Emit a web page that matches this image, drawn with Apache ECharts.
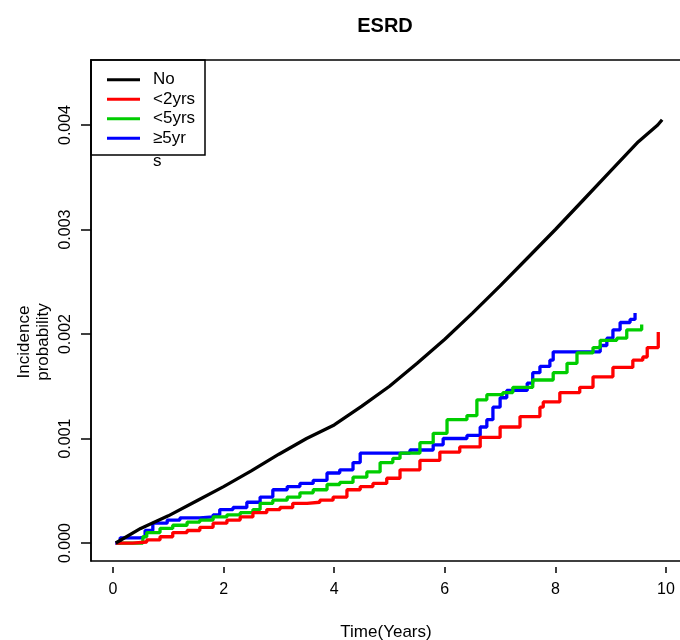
<!DOCTYPE html>
<html>
<head>
<meta charset="utf-8">
<script src="https://cdn.jsdelivr.net/npm/echarts@6/dist/echarts.min.js"></script>
<style>html,body{margin:0;padding:0;background:#fff}#c{width:680px;height:640px}</style>
</head>
<body>
<div id="c"></div>
<script>
const chartTitle = 'ESRD';
const xTitle = 'Time(Years)';
const yTitleLines = ['Incidence', 'probability'];
const seriesNames = ['No', '<2yrs', '<5yrs', '≥5yr'];
const legendOverflow = 's';
const xTicks = [0, 2, 4, 6, 8, 10];
const yTicks = [0, 0.001, 0.002, 0.003, 0.004];

// values in units of 0.001
const noTimes = [0.05, 0.5, 1.0, 1.5, 2.0, 2.5, 3.0, 3.5, 4.0, 4.5, 5.0, 5.5, 6.0, 6.5, 7.0, 7.5, 8.0, 8.5, 9.0, 9.5, 9.85, 9.93];
const noVals  = [0, 0.14, 0.26, 0.40, 0.54, 0.69, 0.85, 1.00, 1.13, 1.31, 1.50, 1.72, 1.95, 2.20, 2.46, 2.73, 3.00, 3.28, 3.56, 3.84, 4.00, 4.05];

const lt2Times = [0.05, 0.36, 0.61, 0.85, 1.08, 1.34, 1.57, 1.81, 2.06, 2.30, 2.53, 2.78, 3.02, 3.25, 3.51, 3.74, 3.98, 4.23, 4.47, 4.70, 4.95, 5.19, 5.55, 5.91, 6.27, 6.64, 7.00, 7.36, 7.72, 7.78, 8.08, 8.44, 8.68, 9.04, 9.40, 9.58, 9.66, 9.86];
const lt2Vals  = [0, 0.01, 0.03, 0.06, 0.10, 0.12, 0.15, 0.19, 0.22, 0.25, 0.29, 0.32, 0.34, 0.38, 0.39, 0.41, 0.44, 0.51, 0.54, 0.57, 0.62, 0.70, 0.79, 0.87, 0.92, 1.01, 1.11, 1.21, 1.30, 1.35, 1.44, 1.49, 1.59, 1.68, 1.75, 1.78, 1.87, 2.02];

const lt5Times = [0.07, 0.54, 0.61, 0.85, 1.08, 1.34, 1.57, 1.81, 2.06, 2.30, 2.53, 2.66, 2.89, 3.15, 3.38, 3.62, 3.87, 4.10, 4.34, 4.59, 4.83, 5.06, 5.19, 5.55, 5.79, 6.04, 6.40, 6.58, 6.76, 7.05, 7.23, 7.59, 7.96, 8.21, 8.39, 8.68, 8.81, 9.11, 9.29, 9.56];
const lt5Vals  = [0, 0.06, 0.10, 0.14, 0.17, 0.20, 0.22, 0.25, 0.27, 0.29, 0.32, 0.38, 0.41, 0.44, 0.48, 0.51, 0.56, 0.58, 0.63, 0.68, 0.77, 0.81, 0.86, 0.96, 1.05, 1.18, 1.22, 1.37, 1.42, 1.44, 1.49, 1.56, 1.63, 1.72, 1.82, 1.87, 1.94, 1.96, 2.04, 2.09];

const ge5Times = [0.04, 0.13, 0.49, 0.58, 0.72, 0.98, 1.21, 1.57, 1.81, 1.93, 2.17, 2.42, 2.66, 2.89, 3.15, 3.38, 3.62, 3.87, 4.10, 4.34, 4.47, 5.37, 5.79, 5.97, 6.40, 6.64, 6.76, 6.87, 7.00, 7.12, 7.49, 7.59, 7.72, 7.90, 7.96, 8.81, 8.93, 9.04, 9.17, 9.35, 9.44];
const ge5Vals  = [0, 0.05, 0.06, 0.12, 0.19, 0.22, 0.24, 0.25, 0.27, 0.32, 0.34, 0.39, 0.44, 0.51, 0.54, 0.57, 0.60, 0.67, 0.70, 0.77, 0.86, 0.89, 0.94, 1.00, 1.03, 1.11, 1.18, 1.30, 1.39, 1.46, 1.53, 1.63, 1.69, 1.75, 1.83, 1.89, 1.96, 2.04, 2.11, 2.14, 2.20];

const colors = ['#000000', '#ff0000', '#00cd00', '#0000ff'];
const FONT = '"Liberation Sans", Arial, sans-serif';

function pairs(ts, vs) { return ts.map((t, i) => [t, vs[i] / 1000]); }

const chart = echarts.init(document.getElementById('c'), null, {renderer: 'canvas'});
const dataSets = [pairs(noTimes, noVals), pairs(lt2Times, lt2Vals), pairs(lt5Times, lt5Vals), pairs(ge5Times, ge5Vals)];

chart.setOption({
  animation: false,
  backgroundColor: '#fff',
  color: colors,
  title: [{
    text: chartTitle, left: 380, top: 11, textAlign: 'center',
    textStyle: {fontFamily: FONT, fontSize: 20, fontWeight: 'bold', color: '#000'}
  }],
  grid: {left: 91, top: 60, right: -1, bottom: 79, outerBoundsMode: 'none', containLabel: false,
    show: true, borderColor: '#000', borderWidth: 1.5, backgroundColor: 'transparent'},
  legend: {
    orient: 'vertical', left: 107, top: 70, padding: 0, itemGap: 0,
    itemWidth: 33, itemHeight: 3, icon: 'rect',
    data: seriesNames,
    textStyle: {fontFamily: FONT, fontSize: 17, color: '#000', lineHeight: 19.5, padding: [0, 0, 0, 8]}
  },
  xAxis: {
    type: 'value', min: -0.398, max: 10.271, offset: 6,
    name: xTitle, nameLocation: 'middle', nameGap: 57,
    nameTextStyle: {fontFamily: FONT, fontSize: 17, color: '#000'},
    axisLine: {show: false, onZero: false},
    axisTick: {show: true, length: 6, customValues: xTicks, lineStyle: {color: '#000', width: 1.5}},
    axisLabel: {customValues: xTicks, margin: 15, fontFamily: FONT, fontSize: 16, color: '#000'},
    splitLine: {show: false}
  },
  yAxis: {
    type: 'value', min: -0.000172, max: 0.004622,
    axisLine: {show: true, onZero: false, lineStyle: {color: '#000', width: 1.5}},
    axisTick: {show: true, length: 10, customValues: yTicks, lineStyle: {color: '#000', width: 1.5}},
    axisLabel: {customValues: yTicks, rotate: 90, margin: 17, fontFamily: FONT, fontSize: 16, color: '#000',
      formatter: v => v.toFixed(3)},
    splitLine: {show: false}
  },
  graphic: [
    {type: 'rect', shape: {x: 91, y: 60, width: 114, height: 95}, style: {fill: 'transparent', stroke: '#000', lineWidth: 1.5}, z: 10},
    {type: 'text', x: 153, y: 161, style: {text: legendOverflow, font: '17px ' + FONT, fill: '#000', textVerticalAlign: 'middle'}, z: 10},
    {type: 'text', x: 24, y: 342, rotation: Math.PI / 2, style: {text: yTitleLines[0], font: '17px ' + FONT, fill: '#000', textAlign: 'center', textVerticalAlign: 'middle'}},
    {type: 'text', x: 43, y: 342, rotation: Math.PI / 2, style: {text: yTitleLines[1], font: '17px ' + FONT, fill: '#000', textAlign: 'center', textVerticalAlign: 'middle'}}
  ],
  series: seriesNames.map((name, i) => ({
    name: name, type: 'line', data: dataSets[i], showSymbol: false, symbol: 'none',
    step: i === 0 ? false : 'end',
    lineStyle: {width: 3.3, color: colors[i]},
    z: 4 - i
  }))
});
</script>
</body>
</html>
